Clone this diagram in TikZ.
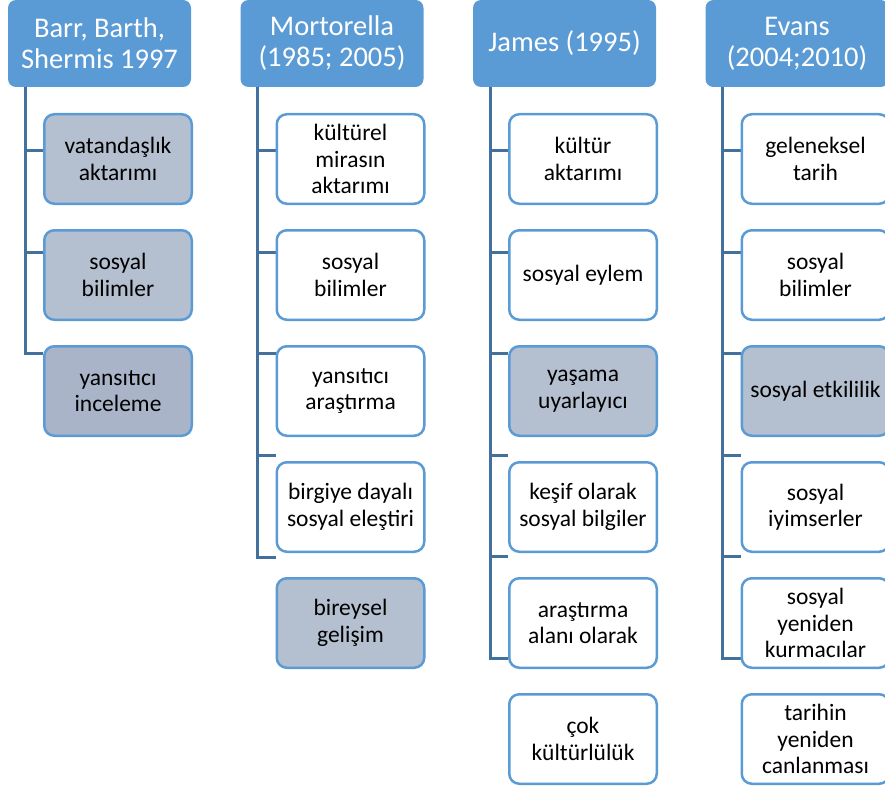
\documentclass[tikz,border=0pt]{standalone}
\usepackage{fontspec}
\setmainfont{Carlito}
\usetikzlibrary{backgrounds}
\definecolor{hblue}{HTML}{5B9BD5}
\definecolor{kblue}{HTML}{5B9BD5}
\definecolor{cblue}{HTML}{41719C}
\definecolor{gfill}{HTML}{B4BFCF}
\definecolor{gdark}{HTML}{AAB4C8}
\begin{document}
\begin{tikzpicture}[x=1pt,y=-1pt,
  hdr/.style={fill=hblue, rounded corners=8pt, minimum width=183pt, minimum height=87pt, text=white, font=\fontsize{28.5}{31}\selectfont, align=center, inner sep=0pt},
  kid/.style={draw=kblue, line width=2.5pt, rounded corners=10pt, minimum width=147.5pt, minimum height=89.5pt, font=\fontsize{23.5}{26.5}\selectfont, align=center, fill=white, inner sep=0pt},
  gkid/.style={kid, fill=gfill},
  dkid/.style={kid, fill=gdark},
  conn/.style={draw=cblue, line width=3pt}]
\clip (0,0) rectangle (885,789);
\useasboundingbox (0,0) rectangle (885,789);
% headers
\node[hdr] (h1) at (99.5,43.5) {Barr, Barth,\\Shermis 1997};
\node[hdr] (h2) at (332,43.5) {Mortorella\\(1985; 2005)};
\node[hdr] (h3) at (564.5,43.5) {James (1995)};
\node[hdr] (h4) at (797,43.5) {Evans\\(2004;2010)};
% column 1
\node[gkid] (c11) at (118,159) {vatandaşlık\\aktarımı};
\node[gkid] (c12) at (118,275) {sosyal\\bilimler};
\node[dkid] (c13) at (118,391) {yansıtıcı\\inceleme};
% column 2
\node[kid] (c21) at (350.5,159) {kültürel\\mirasın\\aktarımı};
\node[kid] (c22) at (350.5,275) {sosyal\\bilimler};
\node[kid] (c23) at (350.5,391) {yansıtıcı\\araştırma};
\node[kid] (c24) at (350.5,507) {birgiye dayalı\\sosyal eleştiri};
\node[gkid] (c25) at (350.5,623) {bireysel\\gelişim};
% column 3
\node[kid] (c31) at (583,159) {kültür\\aktarımı};
\node[kid] (c32) at (583,275) {sosyal eylem};
\node[gkid] (c33) at (583,391) {yaşama\\uyarlayıcı};
\node[kid] (c34) at (583,507) {keşif olarak\\sosyal bilgiler};
\node[kid] (c35) at (583,623) {araştırma\\alanı olarak};
\node[kid] (c36) at (583,739) {çok\\kültürlülük};
% column 4
\node[kid] (c41) at (815.5,159) {geleneksel\\tarih};
\node[kid] (c42) at (815.5,275) {sosyal\\bilimler};
\node[gkid] (c43) at (815.5,391) {sosyal etkililik};
\node[kid] (c44) at (815.5,507) {sosyal\\iyimserler};
\node[kid] (c45) at (815.5,623) {sosyal\\yeniden\\kurmacılar};
\node[kid] (c46) at (815.5,739) {tarihin\\yeniden\\canlanması};
% connectors
\begin{scope}[on background layer]
\draw[conn] (h1.south -| 25,0) -- (25,353) -- (c13.west |- 25,353);
\foreach \y in {150,252} \draw[conn] (25,\y) -- (c11.west |- 25,\y);
\draw[conn] (h2.south -| 257.5,0) -- (257.5,557) -- (c24.west |- 257.5,557);
\foreach \y in {150,252,353,455} \draw[conn] (257.5,\y) -- (c21.west |- 257.5,\y);
\draw[conn] (h3.south -| 490,0) -- (490,658) -- (c35.west |- 490,658);
\foreach \y in {150,252,353,455,556} \draw[conn] (490,\y) -- (c31.west |- 490,\y);
\draw[conn] (h4.south -| 722.5,0) -- (722.5,658) -- (c45.west |- 722.5,658);
\foreach \y in {150,252,353,455,556} \draw[conn] (722.5,\y) -- (c41.west |- 722.5,\y);
\end{scope}
\end{tikzpicture}
\end{document}
